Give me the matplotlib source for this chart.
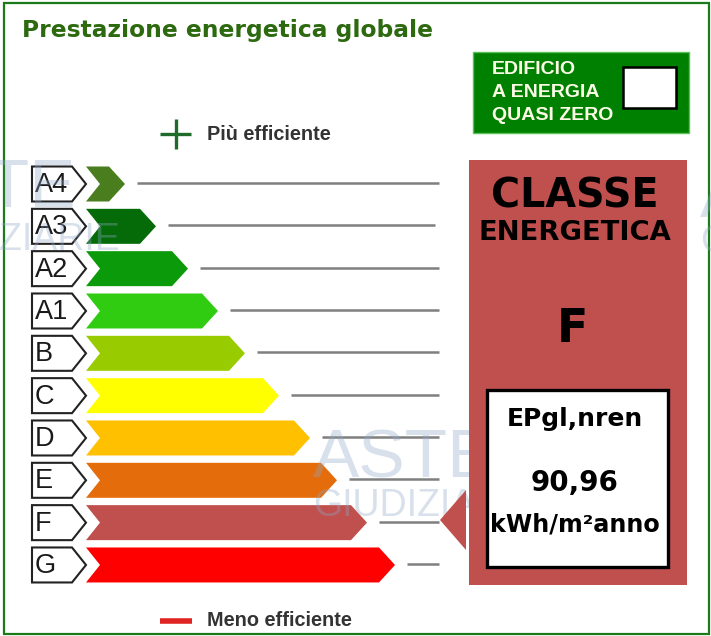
import matplotlib
matplotlib.use('Agg')
import matplotlib.pyplot as plt
from matplotlib.patches import Polygon, Rectangle

# energy classes, from best to worst
classes = ['A4', 'A3', 'A2', 'A1', 'B', 'C', 'D', 'E', 'F', 'G']
bar_tips = [125, 156, 188, 218, 245, 279, 310, 337, 367, 395]
line_ends = [439, 435, 439, 439, 439, 439, 439, 439, 439, 439]
bar_colors = ['#4a7d1e', '#046b08', '#0a9a0a', '#2fcc12', '#99cc00',
              '#ffff00', '#ffc000', '#e46c0a', '#c0504d', '#ff0000']

current_class = 'F'
ep_label = 'EPgl,nren'
ep_value = '90,96'
ep_unit = 'kWh/m²anno'
title = 'Prestazione energetica globale'
nzeb_text = ['EDIFICIO', 'A ENERGIA', 'QUASI ZERO']

W, H = 711, 636
fig = plt.figure(figsize=(W / 100, H / 100), dpi=100)
ax = fig.add_axes([0, 0, 1, 1])
ax.set_xlim(0, W)
ax.set_ylim(H, 0)
ax.axis('off')

# outer frame
ax.add_patch(Rectangle((4, 3), 705, 631, fill=False, ec='#1b7a1b', lw=1.6, zorder=1))

ax.text(22, 30, title, color='#2d6a0f', fontsize=16.8, fontweight='bold',
        va='center', ha='left')

# rows
y0, dy, h = 184, 42.33, 17.5
for i, (c, tip, le, col) in enumerate(zip(classes, bar_tips, line_ends, bar_colors)):
    y = y0 + i * dy
    ax.add_patch(Polygon([(32, y - h), (72, y - h), (86, y), (72, y + h), (32, y + h)],
                         closed=True, fc='white', ec='#222222', lw=1.5, zorder=3))
    ax.text(35, y + 1, c, fontsize=19.5, family='Liberation Sans', color='#1a1a1a',
            va='center', ha='left', zorder=4)
    ax.add_patch(Polygon([(86, y - h), (tip - 16, y - h), (tip, y), (tip - 16, y + h),
                          (86, y + h), (100, y)], closed=True, fc=col, ec='none', zorder=3))
    ax.plot([tip + 12, le], [y - 1, y - 1], color='#7f7f7f', lw=1.8, zorder=2,
            solid_capstyle='butt')

# legend marks
ax.plot([160, 191], [134, 134], color='#1f6b2a', lw=2.4, solid_capstyle='butt')
ax.plot([175.5, 175.5], [119, 149], color='#1f6b2a', lw=2.4, solid_capstyle='butt')
ax.text(207, 134, 'Più efficiente', fontsize=14.3, fontweight='bold',
        family='Liberation Sans', color='#333333', va='center')
ax.plot([160, 192], [621, 621], color='#e02424', lw=4, solid_capstyle='butt')
ax.text(207, 621, 'Meno efficiente', fontsize=14.3, fontweight='bold',
        family='Liberation Sans', color='#333333', va='center')

# watermark
wm = dict(color='#8fa8c8', alpha=0.35, family='Liberation Sans', zorder=5, ha='left',
          va='baseline')
for x, yb1, yb2 in [(313, 478, 516), (-105, 208, 250), (700, 217, 252)]:
    ax.text(x, yb1, 'ASTE', fontsize=50, **wm)
    ax.text(x, yb2, 'GIUDIZIARIE', fontsize=27, **wm)

# nZEB box
ax.add_patch(Rectangle((473, 52), 216, 81, fc='#008000', ec='#5bbf5b', lw=1, zorder=3))
for k, t in enumerate(nzeb_text):
    ax.text(492, 70 + k * 22.5, t, fontsize=14, fontweight='bold', family='Liberation Sans',
            color='#fbfbe6', va='center', ha='left', zorder=4)
ax.add_patch(Rectangle((623, 67), 53, 41, fc='white', ec='black', lw=1.8, zorder=4))

# class panel
panel = '#c0504d'
ax.add_patch(Rectangle((469, 160), 218, 425, fc=panel, ec='none', zorder=6))
ax.add_patch(Polygon([(440, 520), (466, 490), (466, 550)], closed=True, fc=panel,
                     ec='none', zorder=6))
cx = 575
ax.text(cx, 196, 'CLASSE', fontsize=28.5, fontweight='bold', color='black',
        ha='center', va='center', zorder=7)
ax.text(cx, 233, 'ENERGETICA', fontsize=19.7, fontweight='bold', color='black',
        ha='center', va='center', zorder=7)
ax.text(572, 329, current_class, fontsize=33, fontweight='bold', color='black',
        ha='center', va='center', zorder=7)
ax.add_patch(Rectangle((487, 390), 181, 177, fc='white', ec='black', lw=2.4, zorder=7))
ax.text(cx, 419, ep_label, fontsize=18, fontweight='bold', color='black',
        ha='center', va='center', zorder=8)
ax.text(cx, 483, ep_value, fontsize=20, fontweight='bold', color='black',
        ha='center', va='center', zorder=8)
ax.text(cx, 525, ep_unit, fontsize=17.2, fontweight='bold', color='black',
        ha='center', va='center', zorder=8)

fig.savefig('out.png', dpi=100)
